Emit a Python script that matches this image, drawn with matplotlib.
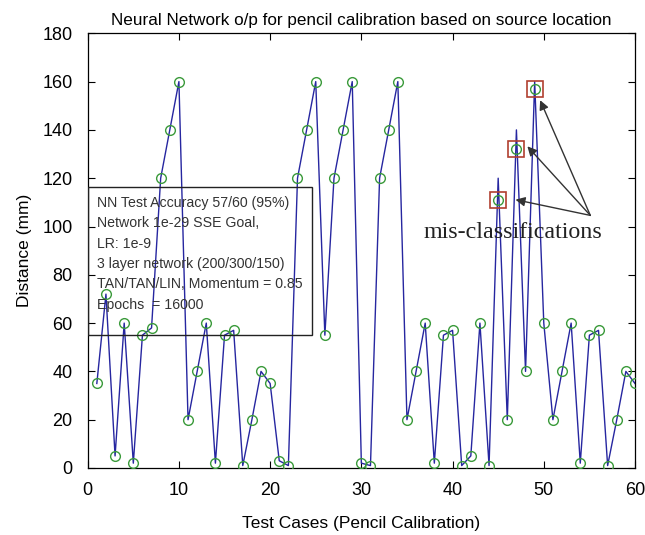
import matplotlib
matplotlib.use("Agg")
import matplotlib.pyplot as plt
import numpy as np

plt.rcParams['font.family'] = ['Liberation Sans', 'DejaVu Sans']

# test case index 1..60
cases = np.arange(1, 61)

# target distance (mm) - blue line
target = [35, 72, 5, 60, 2, 55, 58, 120, 140, 160,
          20, 40, 60, 2, 55, 57, 1, 20, 40, 35,
          3, 1, 120, 140, 160, 55, 120, 140, 160, 2,
          1, 120, 140, 160, 20, 40, 60, 2, 55, 57,
          1, 5, 60, 1, 120, 20, 140, 40, 160, 60,
          20, 40, 60, 2, 55, 57, 1, 20, 40, 35]

# network output (mm) - green circles
output = list(target)
output[44] = 111
output[46] = 132
output[48] = 157

# mis-classified test cases
miss = [45, 47, 49]

info_lines = ["NN Test Accuracy 57/60 (95%)",
              "Network 1e-29 SSE Goal,",
              "LR: 1e-9",
              "3 layer network (200/300/150)",
              "TAN/TAN/LIN, Momentum = 0.85",
              "Epochs  = 16000"]

fig = plt.figure(figsize=(6.45, 5.35), dpi=100)
ax = fig.add_axes([87.7 / 645, 1 - 468 / 535, (635 - 87.7) / 645, (468 - 33.3) / 535])

ax.plot(cases, target, color='#2626a0', linewidth=1.0, zorder=2)
ax.plot(cases, output, linestyle='none', marker='o', markersize=7,
        markerfacecolor='none', markeredgecolor='#3a9a3a', markeredgewidth=1.0, zorder=3)
miss_y = [output[i - 1] for i in miss]
ax.plot(miss, miss_y, linestyle='none', marker='s', markersize=12,
        markerfacecolor='none', markeredgecolor='#b04030', markeredgewidth=1.2, zorder=4)

ax.set_xlim(0, 60)
ax.set_ylim(0, 180)
ax.set_xticks(np.arange(0, 61, 10))
ax.set_yticks(np.arange(0, 181, 20))
ax.tick_params(direction='in', top=True, right=True, length=5, width=0.8,
               labelsize=13)
ax.tick_params(axis='x', pad=10)
ax.tick_params(axis='y', pad=11)
for s in ax.spines.values():
    s.set_linewidth(0.9)

ax.set_title("Neural Network o/p for pencil calibration based on source location",
             fontsize=12.3, pad=6)
ax.set_xlabel("Test Cases (Pencil Calibration)", fontsize=12.5, labelpad=12)
ax.set_ylabel("Distance (mm)", fontsize=12.5, labelpad=7)

# info box
box = plt.Rectangle((0, 55), 24.6, 61.5, fill=False, edgecolor='#222222',
                    linewidth=1.0, zorder=5)
ax.add_patch(box)
for k, line in enumerate(info_lines):
    ax.text(1.0, 109.7 - k * 8.4, line, fontsize=10.2, color='#333333',
            va='center', ha='left', zorder=6)

# annotation
ax.text(36.8, 97.5, "mis-classifications", family=['Liberation Serif', 'DejaVu Serif'],
        fontsize=17.3, va='center', ha='left', color='#222222', zorder=6)
heads = [(49.6, 152.3), (48.2, 133.2), (46.9, 111.1)]
for hx, hy in heads:
    ax.annotate("", xy=(hx, hy), xytext=(55.1, 104.6),
                arrowprops=dict(arrowstyle='-|>', color='#333333', lw=1.0,
                                mutation_scale=14, shrinkA=0, shrinkB=0), zorder=6)

fig.savefig("out.png", dpi=100)
